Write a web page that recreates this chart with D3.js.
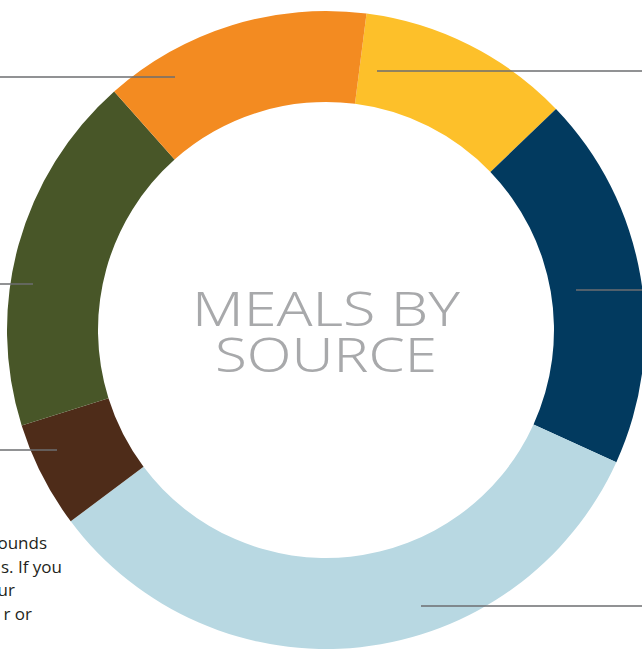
<!DOCTYPE html>
<html>
<head>
<meta charset="utf-8">
<script src="https://cdn.jsdelivr.net/npm/d3@7"></script>
<style>
  html, body { margin: 0; padding: 0; background: #fff; overflow: hidden; }
  svg { display: block; }
  .title { font-family: 'Noto Sans', 'Open Sans', sans-serif; font-weight: 300; fill: #a8a9ab; }
  .note { font-family: 'Open Sans', 'Noto Sans', sans-serif; fill: #231f20; font-size: 17px; }
</style>
</head>
<body>
<svg id="chart"></svg>
<script>
// segments clockwise, starting just right of 12 o'clock
const sources = ['yellow', 'navy', 'lightblue', 'brown', 'green', 'orange'];
const shares = [10.8, 19.0, 33.0, 5.4, 18.3, 13.6];
const colors = ['#fdc02a', '#023a5f', '#b8d8e2', '#4e2c19', '#485628', '#f38b21'];
const titleLines = ['MEALS BY', 'SOURCE'];
const noteLines = ['pounds', 's. If you', 'our', 'r or'];

const width = 642, height = 650;
const cx = 326, cy = 330, outerR = 319, innerR = 228;
const startDeg = 7.3;

// leader lines (side: which page edge they run to)
const leaders = [
  { source: 'orange', y: 77, x: 175, side: 'left' },
  { source: 'yellow', y: 71, x: 377, side: 'right' },
  { source: 'navy', y: 290, x: 576, side: 'right' },
  { source: 'green', y: 284, x: 33, side: 'left' },
  { source: 'brown', y: 450, x: 57, side: 'left' },
  { source: 'lightblue', y: 606, x: 421, side: 'right' },
];

const svg = d3.select('#chart').attr('width', width).attr('height', height);

const start = startDeg * Math.PI / 180;
const pie = d3.pie().sort(null).value(d => d.v)
  .startAngle(start).endAngle(start + 2 * Math.PI);
const arc = d3.arc().innerRadius(innerR).outerRadius(outerR);

const data = sources.map((s, i) => ({ s, v: shares[i], c: colors[i] }));

const g = svg.append('g').attr('transform', `translate(${cx},${cy})`);
g.selectAll('path')
  .data(pie(data))
  .join('path')
  .attr('d', arc)
  .attr('fill', d => d.data.c);

// leaders
svg.selectAll('line.leader')
  .data(leaders)
  .join('line')
  .attr('class', 'leader')
  .attr('x1', d => d.x)
  .attr('x2', d => d.side === 'left' ? 0 : width)
  .attr('y1', d => d.y)
  .attr('y2', d => d.y)
  .attr('stroke', '#6d6e71')
  .attr('stroke-width', 1.5);

// center title
svg.selectAll('text.title')
  .data(titleLines)
  .join('text')
  .attr('class', 'title')
  .attr('x', cx)
  .attr('y', (d, i) => 326 + i * 46)
  .attr('text-anchor', 'middle')
  .attr('font-size', 48)
  .attr('textLength', (d, i) => i === 0 ? 268 : 222)
  .attr('lengthAdjust', 'spacingAndGlyphs')
  .text(d => d);

// cut-off note text on the left
const noteEnds = [47, 62, 15, 32];
svg.selectAll('text.note')
  .data(noteLines)
  .join('text')
  .attr('class', 'note')
  .attr('x', (d, i) => noteEnds[i])
  .attr('y', (d, i) => 549 + i * 23.7)
  .attr('text-anchor', 'end')
  .text(d => d);
</script>
</body>
</html>
